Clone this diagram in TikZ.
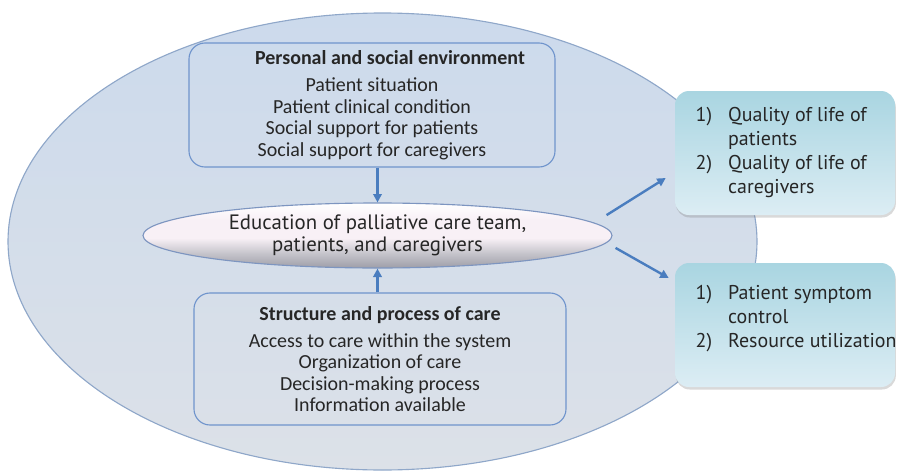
\documentclass[tikz,border=0pt]{standalone}
\usepackage{fontspec}
\setmainfont{Carlito}
\newfontfamily\listfam{PT Sans}
\usetikzlibrary{arrows.meta,shapes.geometric,shadows}

\definecolor{fieldtop}{HTML}{CCDAEC}
\definecolor{fieldbot}{HTML}{DCE1E8}
\definecolor{fieldline}{HTML}{8FA7C9}
\definecolor{boxline}{HTML}{6F94CC}
\definecolor{flowblue}{HTML}{4A7DBF}
\definecolor{edutop}{HTML}{FFFFFF}
\definecolor{edumid}{HTML}{F8F0F6}
\definecolor{edugrey}{HTML}{C4C3CA}
\definecolor{edubot}{HTML}{9E9EA8}
\definecolor{edulin}{HTML}{7D95C0}
\definecolor{outtop}{HTML}{A9D5E1}
\definecolor{outbot}{HTML}{DCEDF4}

% mostly white, grey only along the lower rim
\pgfdeclareverticalshading{edushade}{100bp}{color(0bp)=(edubot); color(25bp)=(edubot);
  color(36bp)=(edugrey); color(48bp)=(edumid); color(62bp)=(edumid); color(75bp)=(edutop); color(100bp)=(edutop)}

\begin{document}
\begin{tikzpicture}[
  every node/.style={text=black!85},
  field/.style={ellipse,draw=fieldline,line width=0.8pt,top color=fieldtop,bottom color=fieldbot,inner sep=0pt},
  carebox/.style={rectangle,rounded corners=0.4cm,draw=boxline,line width=0.8pt,inner sep=0pt},
  eduell/.style={ellipse,draw=edulin,line width=0.8pt,shade,shading=edushade,inner sep=0pt},
  outbox/.style={rectangle,rounded corners=0.35cm,top color=outtop,bottom color=outbot,inner sep=0pt,
    drop shadow={shadow xshift=0.6pt,shadow yshift=-1.8pt,opacity=0.3}},
  flow/.style={draw=flowblue,line width=1.7pt,-{Triangle[length=6pt,width=6pt]}}
]
\newcommand{\carefont}{\fontsize{14.2pt}{15.3pt}\selectfont}
\newcommand{\listfont}{\listfam\fontsize{14.2pt}{17pt}\selectfont}
\useasboundingbox (0,0) rectangle (22.425,11.85);

% outer field and the two groups of factors
\node[field,minimum width=18.725cm,minimum height=11.425cm] (env) at (9.5625,5.8125) {};
\node[carebox,minimum width=9.15cm,minimum height=3.1cm] (pse) at (9.3,9.225) {};
\node[align=center,font=\carefont] (psetxt) at (pse) {\hspace*{0.9cm}\textbf{Personal and social environment}\\[4pt]
  Patient situation\\ Patient clinical condition\\ Social support for patients\\ Social support for caregivers};
\node[carebox,minimum width=9.3cm,minimum height=3.3cm] (spc) at (9.5,2.875) {};
\node[align=center,font=\carefont] (spctxt) at (spc) {\textbf{Structure and process of care}\\[4pt]
  Access to care within the system\\ Organization of care\\ Decision-making process\\ Information available};

% education in the middle
\node[eduell,minimum width=11.725cm,minimum height=1.625cm] (edu) at (9.4375,5.9625) {};
\node[align=center,font=\listfam\fontsize{14.8pt}{15.6pt}\selectfont] (edutxt) at (edu) {Education of palliative care team,\\ patients, and caregivers};

% outcomes
\node[outbox,minimum width=5.5cm,minimum height=3.1cm] (qol) at (19.625,8.025) {};
\node[anchor=west,font=\listfont] (qoltxt) at ([xshift=0.4cm]qol.west) {\begin{tabular}{@{}l@{\hspace{0.4cm}}l@{}}
  1) & Quality of life of\\ & patients\\ 2) & Quality of life of\\ & caregivers\end{tabular}};
\node[outbox,minimum width=5.5cm,minimum height=3.1cm] (sym) at (19.625,3.725) {};
\node[anchor=west,font=\listfont] (symtxt) at ([xshift=0.4cm,yshift=0.16cm]sym.west) {\begin{tabular}{@{}l@{\hspace{0.4cm}}l@{}}
  1) & Patient symptom\\ & control\\ 2) & Resource utilization\end{tabular}};

% arrows
\draw[flow] (pse.south -| edu.north) -- (edu.north);
\draw[flow] (spc.north -| edu.south) -- (edu.south);
\draw[flow] ([shift={(-0.15,0.51)}]edu.east) -- ([shift={(-0.225,-0.625)}]qol.west);
\draw[flow] ([shift={(0.075,-0.31)}]edu.east) -- ([shift={(-0.15,1.175)}]sym.west);
\end{tikzpicture}
\end{document}
